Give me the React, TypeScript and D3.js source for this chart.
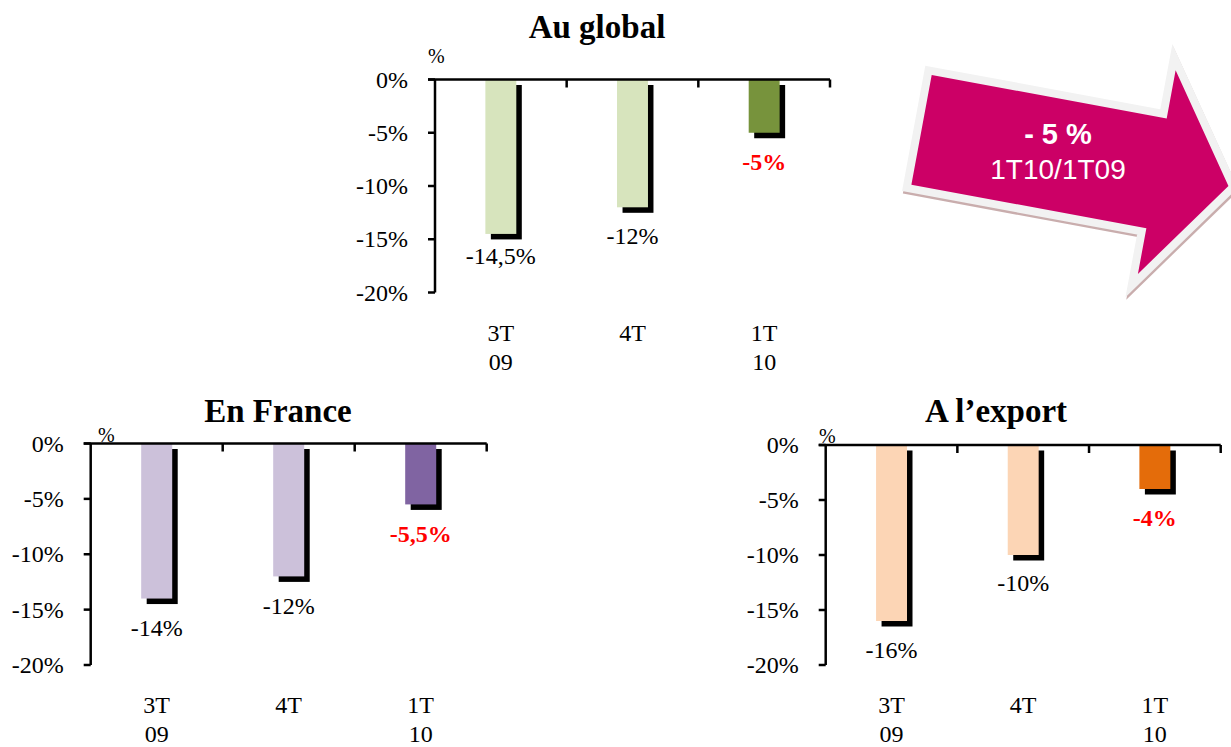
import React from "react";
import * as d3 from "d3";

// quarters on the x axis (two-line labels)
const catLine1 = ["3T", "4T", "1T"];
const catLine2 = ["09", "", "10"];
const yTicks = [0, -5, -10, -15, -20];

// change vs same quarter of previous year, %
const globalValues = [-14.5, -12, -5];
const franceValues = [-14, -12, -5.5];
const exportValues = [-16, -10, -4];

const globalColors = ["#d7e4bd", "#d7e4bd", "#77933c"];
const franceColors = ["#ccc1da", "#ccc1da", "#8064a2"];
const exportColors = ["#fcd5b5", "#fcd5b5", "#e46c0a"];

const arrowBig = "- 5 %";
const arrowSmall = "1T10/1T09";

const serif = "'Liberation Serif', 'Times New Roman', serif";
const sans = "'Liberation Sans', Arial, sans-serif";

const fr = d3.formatLocale({
  decimal: ",",
  thousands: " ",
  grouping: [3],
  currency: ["", " €"],
  minus: "-",
});
const pct = (v: number) => fr.format(".1~f")(v) + "%";

type ChartProps = {
  title: string;
  values: number[];
  colors: string[];
  x0: number;
  x1: number;
  yTop: number;
  yBottom: number;
  titleX: number;
  titleY: number;
  unitX: number;
  unitY: number;
  gaps: number[];
};

function MiniChart(p: ChartProps) {
  const x = d3.scaleBand<string>().domain(catLine1).range([p.x0, p.x1]);
  const y = d3.scaleLinear().domain([0, -20]).range([p.yTop, p.yBottom]);
  const bw = x.bandwidth() * 0.235;
  const off = 5.5;
  const last = p.values.length - 1;

  return (
    <g>
      <text
        x={p.titleX}
        y={p.titleY}
        textAnchor="middle"
        fontFamily={serif}
        fontWeight="bold"
        fontSize={33}
      >
        {p.title}
      </text>
      <text x={p.unitX} y={p.unitY} fontFamily={serif} fontSize={20}>
        %
      </text>

      {/* bars with offset black shadow */}
      {p.values.map((v, i) => {
        const cx = x(catLine1[i])! + x.bandwidth() / 2;
        return (
          <g key={i}>
            <rect
              x={cx - bw / 2 + off}
              y={y(0) + off}
              width={bw}
              height={y(v) - y(0)}
              fill="#000"
            />
            <rect
              x={cx - bw / 2}
              y={y(0)}
              width={bw}
              height={y(v) - y(0)}
              fill={p.colors[i]}
            />
            <text
              x={cx}
              y={y(v) + p.gaps[i] + 8}
              textAnchor="middle"
              fontFamily={serif}
              fontSize={24}
              fontWeight={i === last ? "bold" : "normal"}
              fill={i === last ? "#ff0000" : "#000"}
            >
              {pct(v)}
            </text>
            <text
              x={cx}
              y={y(-20) + 48}
              textAnchor="middle"
              fontFamily={serif}
              fontSize={24}
            >
              {catLine1[i]}
            </text>
            <text
              x={cx}
              y={y(-20) + 77}
              textAnchor="middle"
              fontFamily={serif}
              fontSize={24}
            >
              {catLine2[i]}
            </text>
          </g>
        );
      })}

      {/* y axis */}
      <line
        x1={p.x0}
        x2={p.x0}
        y1={y(0)}
        y2={y(-20)}
        stroke="#000"
        strokeWidth={2.5}
      />
      {yTicks.map((t) => (
        <g key={t}>
          <line
            x1={p.x0 - 7}
            x2={p.x0}
            y1={y(t)}
            y2={y(t)}
            stroke="#000"
            strokeWidth={2.5}
          />
          <text
            x={p.x0 - 27}
            y={y(t) + 8}
            textAnchor="end"
            fontFamily={serif}
            fontSize={24}
          >
            {pct(t)}
          </text>
        </g>
      ))}

      {/* x axis at 0 */}
      <line
        x1={p.x0 - 7}
        x2={p.x1}
        y1={y(0)}
        y2={y(0)}
        stroke="#000"
        strokeWidth={2.5}
      />
      {catLine1.map((c) => {
        const bx = x(c)! + x.bandwidth();
        return (
          <line
            key={c}
            x1={bx}
            x2={bx}
            y1={y(0)}
            y2={y(0) + 8}
            stroke="#000"
            strokeWidth={2.5}
          />
        );
      })}
    </g>
  );
}

function Arrow() {
  // arrow outline in its own frame, then rotated into place
  const pts: [number, number][] = [
    [0, 0],
    [239, 0],
    [239, -49],
    [312, 55],
    [239, 158],
    [239, 111.5],
    [0, 111.5],
  ];
  const d = d3.line()(pts)! + "Z";
  return (
    <g>
      <g transform="translate(932.5,77.5) rotate(10.5)">
        <path
          d={d}
          fill="#c9adad"
          stroke="#c9adad"
          strokeWidth={16}
          strokeLinejoin="miter"
        />
      </g>
      <g transform="translate(931.7,75) rotate(10.5)">
        <path
          d={d}
          fill="#f2f2f2"
          stroke="#f2f2f2"
          strokeWidth={16}
          strokeLinejoin="miter"
        />
        <path d={d} fill="#cc0066" />
      </g>
      <text
        x={1058}
        y={144}
        textAnchor="middle"
        fontFamily={sans}
        fontWeight="bold"
        fontSize={29}
        fill="#fff"
      >
        {arrowBig}
      </text>
      <text
        x={1058}
        y={179}
        textAnchor="middle"
        fontFamily={sans}
        fontSize={28}
        fill="#fff"
      >
        {arrowSmall}
      </text>
    </g>
  );
}

export default function App() {
  return (
    <svg
      width={1231}
      height={747}
      style={{ position: "absolute", left: 0, top: 0, background: "#fff" }}
    >
      <MiniChart
        title="Au global"
        values={globalValues}
        colors={globalColors}
        x0={435}
        x1={830}
        yTop={79.5}
        yBottom={292.5}
        titleX={597}
        titleY={38}
        unitX={428}
        unitY={63}
        gaps={[22, 29, 29]}
      />
      <MiniChart
        title="En France"
        values={franceValues}
        colors={franceColors}
        x0={90.7}
        x1={486.7}
        yTop={443.5}
        yBottom={665}
        titleX={278}
        titleY={422}
        unitX={98}
        unitY={442}
        gaps={[29, 30, 29.5]}
      />
      <MiniChart
        title="A l’export"
        values={exportValues}
        colors={exportColors}
        x0={825.7}
        x1={1220.7}
        yTop={445}
        yBottom={665}
        titleX={996}
        titleY={422}
        unitX={819}
        unitY={443}
        gaps={[29, 28, 29]}
      />
      <Arrow />
    </svg>
  );
}
